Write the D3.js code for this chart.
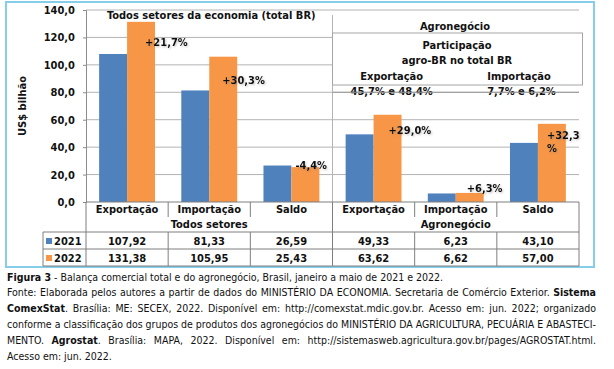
<!DOCTYPE html>
<html lang="pt">
<head>
<meta charset="UTF-8">
<title>Balança comercial</title>
<script src="https://cdn.jsdelivr.net/npm/d3@7"></script>
<style>
  body { margin: 0; background: #fff; }
  svg text { font-family: 'DejaVu Sans Condensed', 'DejaVu Sans', sans-serif; fill: #111; }
</style>
</head>
<body>
<div id="box"></div>
<script>
// dados
var categorias = ["Exportação", "Importação", "Saldo", "Exportação", "Importação", "Saldo"];
var grupos = ["Todos setores", "Agronegócio"];
var anos = ["2021", "2022"];
var valores2021 = [107.92, 81.33, 26.59, 49.33, 6.23, 43.10];
var valores2022 = [131.38, 105.95, 25.43, 63.62, 6.62, 57.00];
var variacoes = ["+21,7%", "+30,3%", "-4,4%", "+29,0%", "+6,3%", "+32,3|%"];
var yTicks = [0, 20, 40, 60, 80, 100, 120, 140];

// deslocamento dos rótulos em relação ao topo da barra laranja (px)
var ajusteRotulo = [[18, 24], [13, 27], [4, 2], [15, 19], [11, -1], [9, 15]];

var cores = ["#4f81bd", "#f79646"];
var width = 614, height = 369;
var left = 86, right = 579, top0 = 10, base = 202;

var svg = d3.select("#box").append("svg")
    .attr("width", width).attr("height", height);

var defs = svg.append("defs");
var f = defs.append("filter").attr("id", "sombra")
    .attr("x", "-20%").attr("y", "-40%").attr("width", "150%").attr("height", "180%");
f.append("feDropShadow").attr("dx", 1).attr("dy", 1).attr("stdDeviation", 1)
    .attr("flood-color", "#777").attr("flood-opacity", 0.45);

var x = d3.scaleBand().domain(d3.range(categorias.length)).range([left, right]);
var xAno = d3.scaleBand().domain(anos).range([0, x.bandwidth()]).paddingOuter(0.47);
var y = d3.scaleLinear().domain([0, 140]).range([base, top0]);
var fmt1 = function(d) { return d3.format(".1f")(d).replace(".", ","); };
var fmt2 = function(d) { return d3.format(".2f")(d).replace(".", ","); };

// moldura azul
svg.append("rect").attr("x", 6).attr("y", 2).attr("width", 588).attr("height", 265)
    .attr("fill", "none").attr("stroke", "#86cdea").attr("stroke-width", 2);

// grade
svg.append("g").selectAll("line").data(yTicks.filter(function(d) { return d > 0; }))
    .enter().append("line")
    .attr("x1", left).attr("x2", right)
    .attr("y1", function(d) { return y(d); }).attr("y2", function(d) { return y(d); })
    .attr("stroke", "#b3b3b3").attr("stroke-width", 1);

// eixo y
var yAxis = d3.axisLeft(y).tickValues(yTicks).tickSize(3).tickPadding(8).tickFormat(fmt1);
var gy = svg.append("g").attr("transform", "translate(" + left + ",0)").call(yAxis);
gy.select(".domain").attr("stroke", "#8c8c8c");
gy.selectAll(".tick line").attr("stroke", "#8c8c8c");
gy.selectAll(".tick text").style("font-size", "11px").style("font-weight", "bold").attr("fill", "#111");

svg.append("text")
    .attr("transform", "translate(26," + ((top0 + base) / 2) + ") rotate(-90)")
    .attr("text-anchor", "middle")
    .style("font-size", "11px").style("font-weight", "bold")
    .text("US$  bilhão");

// divisória entre os grupos
svg.append("line").attr("x1", x(3)).attr("x2", x(3)).attr("y1", 15).attr("y2", base)
    .attr("stroke", "#b3b3b3");

// caixa agronegócio
svg.append("rect").attr("x", x(3)).attr("y", 33).attr("width", 250).attr("height", 52)
    .attr("fill", "#fff").attr("stroke", "#a6a6a6");

var txt = function(tx, ty, s, anchor) {
    return svg.append("text").attr("x", tx).attr("y", ty).attr("dy", "0.35em")
        .attr("text-anchor", anchor || "middle")
        .style("font-size", "11px").style("font-weight", "bold").text(s);
};
txt((x(0) + x(2) + x.bandwidth()) / 2 + 2, 15, "Todos setores da economia (total BR)");
txt(455, 26, "Agronegócio");
txt(457, 45, "Participação");
txt(457, 60, "agro-BR no total BR");
txt(x(3) + x.bandwidth() * 0.72, 76, "Exportação");
txt(x(5) + x.bandwidth() * 0.27, 76, "Importação");

// barras
var dados = categorias.map(function(c, i) {
    return { i: i, vals: [valores2021[i], valores2022[i]] };
});
var grp = svg.append("g").selectAll("g").data(dados).enter().append("g")
    .attr("transform", function(d) { return "translate(" + x(d.i) + ",0)"; });
grp.selectAll("rect").data(function(d) { return d.vals.map(function(v, k) { return { k: k, v: v }; }); })
    .enter().append("rect")
    .attr("x", function(d) { return xAno(anos[d.k]); })
    .attr("width", xAno.bandwidth())
    .attr("y", function(d) { return y(d.v); })
    .attr("height", function(d) { return base - y(d.v); })
    .attr("fill", function(d) { return cores[d.k]; });

// textos de participação sobre a grade
txt(x(3) + x.bandwidth() * 0.72, 91, "45,7% e 48,4%");
txt(x(5) + x.bandwidth() * 0.3, 91, "7,7% e 6,2%");
// linha de 80 passa sobre o texto
svg.append("line").attr("x1", x(3)).attr("x2", right).attr("y1", y(80)).attr("y2", y(80))
    .attr("stroke", "#9a9a9a");

// rótulos de variação
variacoes.forEach(function(s, i) {
    var ox = x(i) + xAno("2022") + ajusteRotulo[i][0];
    var oy = y(valores2022[i]) + ajusteRotulo[i][1];
    var t = svg.append("text").attr("x", ox).attr("y", oy)
        .style("font-size", "11px").style("font-weight", "bold")
        .attr("filter", "url(#sombra)");
    s.split("|").forEach(function(p, k) {
        t.append("tspan").attr("x", ox).attr("dy", k === 0 ? 0 : 13).text(p);
    });
});

// tabela de dados
var linhaCor = "#7f7f7f";
var tab = svg.append("g").attr("stroke", linhaCor).attr("stroke-width", 1);
tab.append("line").attr("x1", left).attr("x2", right).attr("y1", base).attr("y2", base);
[232, 249, 266].forEach(function(yy) {
    tab.append("line").attr("x1", 43).attr("x2", right).attr("y1", yy).attr("y2", yy);
});
tab.append("line").attr("x1", 43).attr("x2", 43).attr("y1", 232).attr("y2", 266);
d3.range(categorias.length + 1).forEach(function(i) {
    var xx = i < categorias.length ? x(i) : right;
    var cheio = (i % 3 === 0);
    tab.append("line").attr("x1", xx).attr("x2", xx)
        .attr("y1", cheio ? base : 232).attr("y2", 266);
    if (!cheio) tab.append("line").attr("x1", xx).attr("x2", xx).attr("y1", base).attr("y2", 217);
});

categorias.forEach(function(c, i) {
    txt(x(i) + x.bandwidth() / 2, 209, c);
    txt(x(i) + x.bandwidth() / 2, 241, fmt2(valores2021[i]));
    txt(x(i) + x.bandwidth() / 2, 258, fmt2(valores2022[i]));
});
grupos.forEach(function(g, k) {
    txt((x(k * 3) + x(k * 3 + 2) + x.bandwidth()) / 2, 224, g);
});
anos.forEach(function(a, k) {
    var yy = 241 + k * 17;
    svg.append("rect").attr("x", 46).attr("y", yy - 3).attr("width", 6).attr("height", 6)
        .attr("fill", cores[k]);
    txt(54, yy, a, "start");
});

// legenda da figura
var legenda = [
    [["b", "Figura 3"], ["n", " - Balança comercial total e do agronegócio, Brasil, janeiro a maio de 2021 e 2022."]],
    [["n", "Fonte: Elaborada pelos autores a partir de dados do MINISTÉRIO DA ECONOMIA. Secretaria de Comércio Exterior. "], ["b", "Sistema"]],
    [["b", "ComexStat"], ["n", ". Brasília: ME: SECEX, 2022. Disponível em: http://comexstat.mdic.gov.br. Acesso em: jun. 2022; organizado"]],
    [["n", "conforme a classificação dos grupos de produtos dos agronegócios do MINISTÉRIO DA AGRICULTURA, PECUÁRIA E ABASTECI-"]],
    [["n", "MENTO. "], ["b", "Agrostat"], ["n", ". Brasília: MAPA, 2022. Disponível em: http://sistemasweb.agricultura.gov.br/pages/AGROSTAT.html."]],
    [["n", "Acesso em: jun. 2022."]]
];
var capX = 7, capW = 589;
legenda.forEach(function(partes, li) {
    var t = svg.append("text").attr("x", capX).attr("y", 277 + li * 15.8).attr("dy", "0.35em")
        .style("font-size", "10.5px");
    partes.forEach(function(p) {
        t.append("tspan").style("font-weight", p[0] === "b" ? "bold" : "normal").text(p[1]);
    });
    if (li >= 1 && li <= 4) {
        var w = t.node().getComputedTextLength();
        var espacos = partes.map(function(p) { return p[1]; }).join("").split(" ").length - 1;
        if (w < capW) {
            t.style("word-spacing", ((capW - w) / espacos) + "px");
        } else {
            t.attr("textLength", capW).attr("lengthAdjust", "spacingAndGlyphs");
        }
    }
});
</script>
</body>
</html>
